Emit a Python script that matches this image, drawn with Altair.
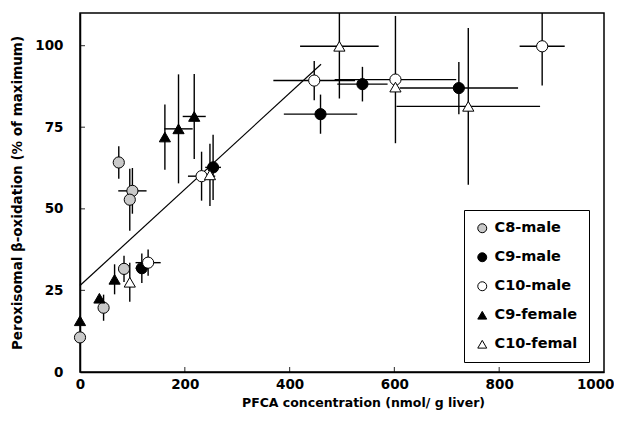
import altair as alt
import pandas as pd

# ---- data ----
series = (["C8-male"] * 6 + ["C9-male"] * 5 + ["C10-male"] * 5 +
          ["C9-female"] * 6 + ["C10-femal"] * 5)
conc = [0, 45, 84, 74, 100, 95,
        118, 254, 459, 539, 723,
        130, 232, 447, 602, 882,
        0, 37, 66, 162, 188, 218,
        95, 248, 495, 602, 741]
beta = [10.6, 19.7, 31.6, 64.2, 55.5, 52.8,
        31.8, 62.7, 79.0, 88.2, 87.0,
        33.5, 60.0, 89.3, 89.6, 99.8,
        15.7, 22.6, 28.4, 72.0, 74.5, 78.3,
        27.5, 60.4, 99.8, 87.3, 81.4]
conc_err = [0, 0, 0, 0, 27, 0,
            12, 15, 70, 48, 113,
            24, 26, 78, 116, 43,
            0, 0, 0, 0, 27, 22,
            0, 0, 75, 0, 137]
beta_err = [2, 4, 4, 5, 7, 9.5,
            4.5, 10, 6, 5.3, 8,
            4, 7.5, 6, 19.5, 12,
            0, 0, 4.6, 10, 16.7, 13,
            6, 9.5, 16, 0, 24]

fit_x = [0, 460]
fit_y = [26.5, 94.3]

x_ticks = [200, 400, 600, 800]
y_ticks = [25, 50, 75, 100]

legend_order = ["C8-male", "C9-male", "C10-male", "C9-female", "C10-femal"]
legend_shapes = ["circle", "circle", "circle", "triangle-up", "triangle-up"]
legend_fills = ["#c9c9c9", "#000000", "#ffffff", "#000000", "#ffffff"]
legend_strokes = ["#000000"] * 5

df = pd.DataFrame({"series": series, "x": conc, "y": beta,
                   "xe": conc_err, "ye": beta_err})
df["xlo"] = df["x"] - df["xe"]
df["xhi"] = df["x"] + df["xe"]
df["ylo"] = df["y"] - df["ye"]
df["yhi"] = df["y"] + df["ye"]

W, H = 524, 359
FONT = "DejaVu Sans"

xscale = alt.Scale(domain=[0, 1000], nice=False, zero=False)
yscale = alt.Scale(domain=[0, 110], nice=False, zero=False)

xaxis = alt.Axis(values=[0, 200, 400, 600, 800, 1000], format="d",
                 ticks=False, tickSize=0, labelFlush=False,
                 labelAlign={"condition": {"test": "datum.value == 1000", "value": "right"},
                             "value": "center"},
                 labelOffset={"condition": {"test": "datum.value == 1000", "value": 10},
                              "value": 0},
                 grid=False, labelPadding=5, labelFontSize=13.5,
                 labelFont=FONT, labelFontWeight="bold", labelColor="black",
                 title="PFCA concentration (nmol/ g liver)", titleFont=FONT,
                 titleFontSize=12.5, titleFontWeight="bold", titleColor="black",
                 titlePadding=6, titleX=283, domainColor="black", domainWidth=1.5)
yaxis = alt.Axis(values=[0, 25, 50, 75, 100], format="d", ticks=False, tickSize=0,
                 labelFlush=False,
                 grid=False, labelPadding=17, labelFontSize=13.5,
                 labelFont=FONT, labelFontWeight="bold", labelColor="black",
                 title="Peroxisomal β-oxidation (% of maximum)", titleFont=FONT,
                 titleFontSize=13.5, titleFontWeight="bold", titleColor="black",
                 titlePadding=10, domainColor="black", domainWidth=1.5)

base = alt.Chart(df)

vbars = base.transform_filter("datum.ye > 0").mark_rule(
    color="black", strokeWidth=1.4, clip=True).encode(
    x=alt.X("x:Q", scale=xscale, axis=xaxis),
    y=alt.Y("ylo:Q", scale=yscale, axis=yaxis),
    y2="yhi:Q")

hbars = base.transform_filter("datum.xe > 0").mark_rule(
    color="black", strokeWidth=1.4, clip=True).encode(
    x=alt.X("xlo:Q", scale=xscale),
    x2="xhi:Q",
    y=alt.Y("y:Q", scale=yscale))

fit = alt.Chart(pd.DataFrame({"x": fit_x, "y": fit_y})).mark_line(
    color="black", strokeWidth=1.2).encode(
    x=alt.X("x:Q", scale=xscale), y=alt.Y("y:Q", scale=yscale))

leg = alt.Legend(title=None, symbolStrokeColor="black", symbolStrokeWidth=1)

pts = base.mark_point(filled=True, strokeWidth=1,
                      opacity=1, fillOpacity=1, size=125).encode(
    x=alt.X("x:Q", scale=xscale),
    y=alt.Y("y:Q", scale=yscale),
    shape=alt.Shape("series:N",
                    scale=alt.Scale(domain=legend_order, range=legend_shapes),
                    legend=leg),
    fill=alt.Fill("series:N",
                  scale=alt.Scale(domain=legend_order, range=legend_fills),
                  legend=leg),
    stroke=alt.Stroke("series:N",
                      scale=alt.Scale(domain=legend_order, range=legend_strokes),
                      legend=leg))

xt = alt.Chart(pd.DataFrame({"t": x_ticks})).mark_tick(
    color="black", orient="vertical", size=5, thickness=1.2).encode(
    x=alt.X("t:Q", scale=xscale), y=alt.value(H - 2.5))
yt = alt.Chart(pd.DataFrame({"t": y_ticks})).mark_tick(
    color="black", orient="horizontal", size=5, thickness=1.2).encode(
    y=alt.Y("t:Q", scale=yscale), x=alt.value(2.5))

chart = alt.layer(vbars, hbars, fit, xt, yt, pts).properties(
    width=W, height=H,
    autosize=alt.AutoSizeParams(type="none"),
    padding={"left": 72, "top": 5, "right": 10, "bottom": 45},
    background="white",
).configure_view(
    stroke="black", strokeWidth=1.5
).configure_legend(
    orient="none", legendX=384, legendY=197,
    strokeColor="black", fillColor="white", padding=11,
    rowPadding=14, labelFont=FONT, labelFontSize=14.5,
    labelFontWeight="bold", labelColor="black",
    symbolSize=80, labelOffset=5, cornerRadius=0
)

chart.save("out.html", embed_options={"renderer": "svg", "actions": False})
